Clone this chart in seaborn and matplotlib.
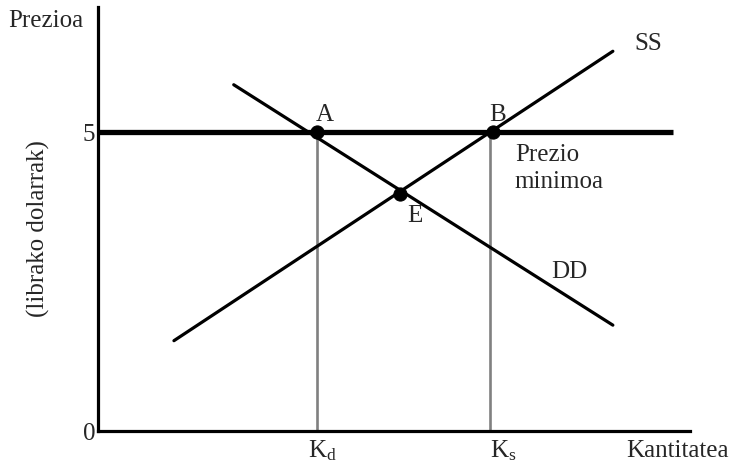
import matplotlib
matplotlib.use("Agg")
import matplotlib.pyplot as plt
import seaborn as sns

# Datuak
dd_x = [2.27, 8.61]
dd_y = [5.79, 1.77]
ss_x = [1.27, 8.61]
ss_y = [1.51, 6.35]
prezio_minimoa = 5
floor_x = [0, 9.62]
puntu_izenak = ["A", "B", "E"]
puntu_x = [3.66, 6.61, 5.05]
puntu_y = [5.0, 5.0, 3.96]
kd = 3.66
ks = 6.56

sns.set_style("white")
plt.rcParams["font.family"] = ["Liberation Serif", "DejaVu Serif"]
plt.rcParams["mathtext.fontset"] = "custom"
plt.rcParams["mathtext.rm"] = "Liberation Serif"
plt.rcParams["mathtext.it"] = "Liberation Serif:italic"

fig = plt.figure(figsize=(7.34, 4.64), dpi=100)
ax = fig.add_axes([98 / 734, 32 / 464, 592 / 734, 424 / 464])

# Kantitate bertikalak (grisak)
ax.plot([kd, kd], [0, prezio_minimoa], color="#808080", lw=1.9)
ax.plot([ks, ks], [0, prezio_minimoa], color="#808080", lw=1.9)

# Prezio minimoa
ax.plot(floor_x, [prezio_minimoa] * 2, color="black", lw=3.8, solid_capstyle="butt")

# Eskaria eta eskaintza
sns.lineplot(x=dd_x, y=dd_y, ax=ax, color="black", lw=2.3)
sns.lineplot(x=ss_x, y=ss_y, ax=ax, color="black", lw=2.3)

# Puntuak
sns.scatterplot(x=puntu_x, y=puntu_y, ax=ax, color="black", s=90, zorder=5, edgecolor="black")

ax.set_xlim(0, 9.9)
ax.set_ylim(0, 7.09)
for s in ["top", "right"]:
    ax.spines[s].set_visible(False)
for s in ["left", "bottom"]:
    ax.spines[s].set_color("black")
    ax.spines[s].set_linewidth(2.3)

fs = 18
ax.set_xticks([])
ax.set_yticks([0, 5])
ax.set_yticklabels(["0", "5"], fontsize=fs)
ax.tick_params(axis="y", length=0, pad=2)

ax.text(-1.5, 6.87, "Prezioa", fontsize=fs, ha="left", va="center", clip_on=False)
ax.text(-1.0, 3.41, "(librako dolarrak)", fontsize=fs, rotation=90, ha="center", va="center", clip_on=False)
ax.text(9.69, -0.32, "Kantitatea", fontsize=fs, ha="center", va="center", clip_on=False)
ax.text(3.51, -0.32, r"K$_{\mathrm{d}}$", fontsize=fs, ha="left", va="center", clip_on=False)
ax.text(6.56, -0.32, r"K$_{\mathrm{s}}$", fontsize=fs, ha="left", va="center", clip_on=False)
ax.text(9.2, 6.49, "SS", fontsize=fs, ha="center", va="center")
ax.text(7.89, 2.68, "DD", fontsize=fs, ha="center", va="center")
ax.text(6.97, 4.41, "Prezio\nminimoa", fontsize=fs, ha="left", va="center", linespacing=1.3)
ax.text(3.8, 5.3, "A", fontsize=fs, ha="center", va="center")
ax.text(6.69, 5.3, "B", fontsize=fs, ha="center", va="center")
ax.text(5.3, 3.62, "E", fontsize=fs, ha="center", va="center")

fig.savefig("out.png", dpi=100)
